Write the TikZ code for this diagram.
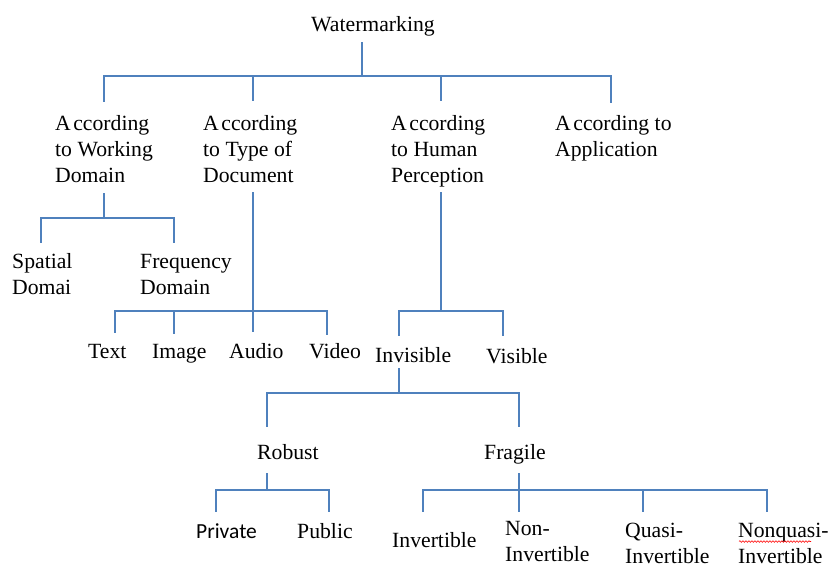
\documentclass[tikz,border=0pt]{standalone}
\usepackage{fontspec}
\setmainfont{Liberation Serif}
\newfontfamily\calib{Carlito}
\usetikzlibrary{decorations.pathmorphing}
\definecolor{linkblue}{HTML}{4F81BD}
\newcommand\Acc{A\kern2.5pt ccording}
\tikzset{
  lbl/.style={anchor=base west, inner sep=0pt, font=\fontsize{21.7}{26}\selectfont},
  lblsans/.style={lbl, font=\calib\fontsize{21.5}{26}\selectfont},
  link/.style={draw=linkblue, line width=1.6pt}
}
\begin{document}
\begin{tikzpicture}[x=1pt,y=-1pt]
\useasboundingbox (0,0) rectangle (829,563);
% texts
\node[lbl] (wm) at (311,31) {Watermarking};
\node[lbl] (wd) at (55,130) {\vtop{\hbox{\Acc}\hbox{to Working}\hbox{Domain}}};
\node[lbl] (td) at (203,130) {\vtop{\hbox{\Acc}\hbox{to Type of}\hbox{Document}}};
\node[lbl] (hp) at (391,130) {\vtop{\hbox{\Acc}\hbox{to Human}\hbox{Perception}}};
\node[lbl] (ap) at (555,130) {\vtop{\hbox{\Acc\ to}\hbox{Application}}};
\node[lbl] (sp) at (12,268) {\vtop{\hbox{Spatial}\hbox{Domai}}};
\node[lbl] (fr) at (140,268) {\vtop{\hbox{Frequency}\hbox{Domain}}};
\node[lbl] (tx) at (88,358) {Text};
\node[lbl] (im) at (152,358) {Image};
\node[lbl] (au) at (229,358) {Audio};
\node[lbl] (vi) at (309,358) {Video};
\node[lbl] (inv) at (375,362) {Invisible};
\node[lbl] (vis) at (486,363) {Visible};
\node[lbl] (rob) at (257,459) {Robust};
\node[lbl] (fra) at (484,459) {Fragile};
\node[lblsans] (pri) at (196,538) {Private};
\node[lbl] (pub) at (297,538) {Public};
\node[lbl] (ivt) at (392,547) {Invertible};
\node[lbl] (non) at (505,535) {\vtop{\hbox{Non-}\hbox{Invertible}}};
\node[lbl] (qua) at (625,537) {\vtop{\hbox{Quasi-}\hbox{Invertible}}};
\node[lbl] (nqu) at (738,537) {\vtop{\hbox{Nonquasi-}\hbox{Invertible}}};
% spell-check underline
\coordinate (sqA) at (739,541.5);
\coordinate (sqB) at (811,541.5);
\draw[red, line width=0.6pt, decorate, decoration={snake, amplitude=0.8pt, segment length=3pt}] (sqA) -- (sqB);
% connector end points
\coordinate (wmB) at (362,42);
\coordinate (wdT) at (104,102);
\coordinate (tdT) at (253,101);
\coordinate (hpT) at (441,101);
\coordinate (apT) at (611,103);
\coordinate (wdB) at (104,193);
\coordinate (spT) at (41,243);
\coordinate (frT) at (174,243);
\coordinate (tdB) at (253,192);
\coordinate (txT) at (115,333);
\coordinate (imT) at (174,334);
\coordinate (auT) at (253,332);
\coordinate (viT) at (327,335);
\coordinate (hpB) at (441,192);
\coordinate (invT) at (399,336);
\coordinate (visT) at (503,336);
\coordinate (invB) at (399,368);
\coordinate (robT) at (267,427);
\coordinate (fraT) at (519,427);
\coordinate (robB) at (267,473);
\coordinate (priT) at (216,512);
\coordinate (pubT) at (329,512);
\coordinate (fraB) at (519,473);
\coordinate (ivtT) at (423,512);
\coordinate (nonT) at (519,512);
\coordinate (quaT) at (643,512);
\coordinate (nquT) at (767,512);
% connectors
\foreach \c in {wdT,tdT,hpT,apT} \draw[link] (wmB) -- ++(0,34) -| (\c);
\foreach \c in {spT,frT} \draw[link] (wdB) -- ++(0,25) -| (\c);
\foreach \c in {txT,imT,auT,viT} \draw[link] (tdB) -- ++(0,119) -| (\c);
\foreach \c in {invT,visT} \draw[link] (hpB) -- ++(0,119) -| (\c);
\foreach \c in {robT,fraT} \draw[link] (invB) -- ++(0,25) -| (\c);
\foreach \c in {priT,pubT} \draw[link] (robB) -- ++(0,17) -| (\c);
\foreach \c in {ivtT,nonT,quaT,nquT} \draw[link] (fraB) -- ++(0,17) -| (\c);
\end{tikzpicture}
\end{document}
